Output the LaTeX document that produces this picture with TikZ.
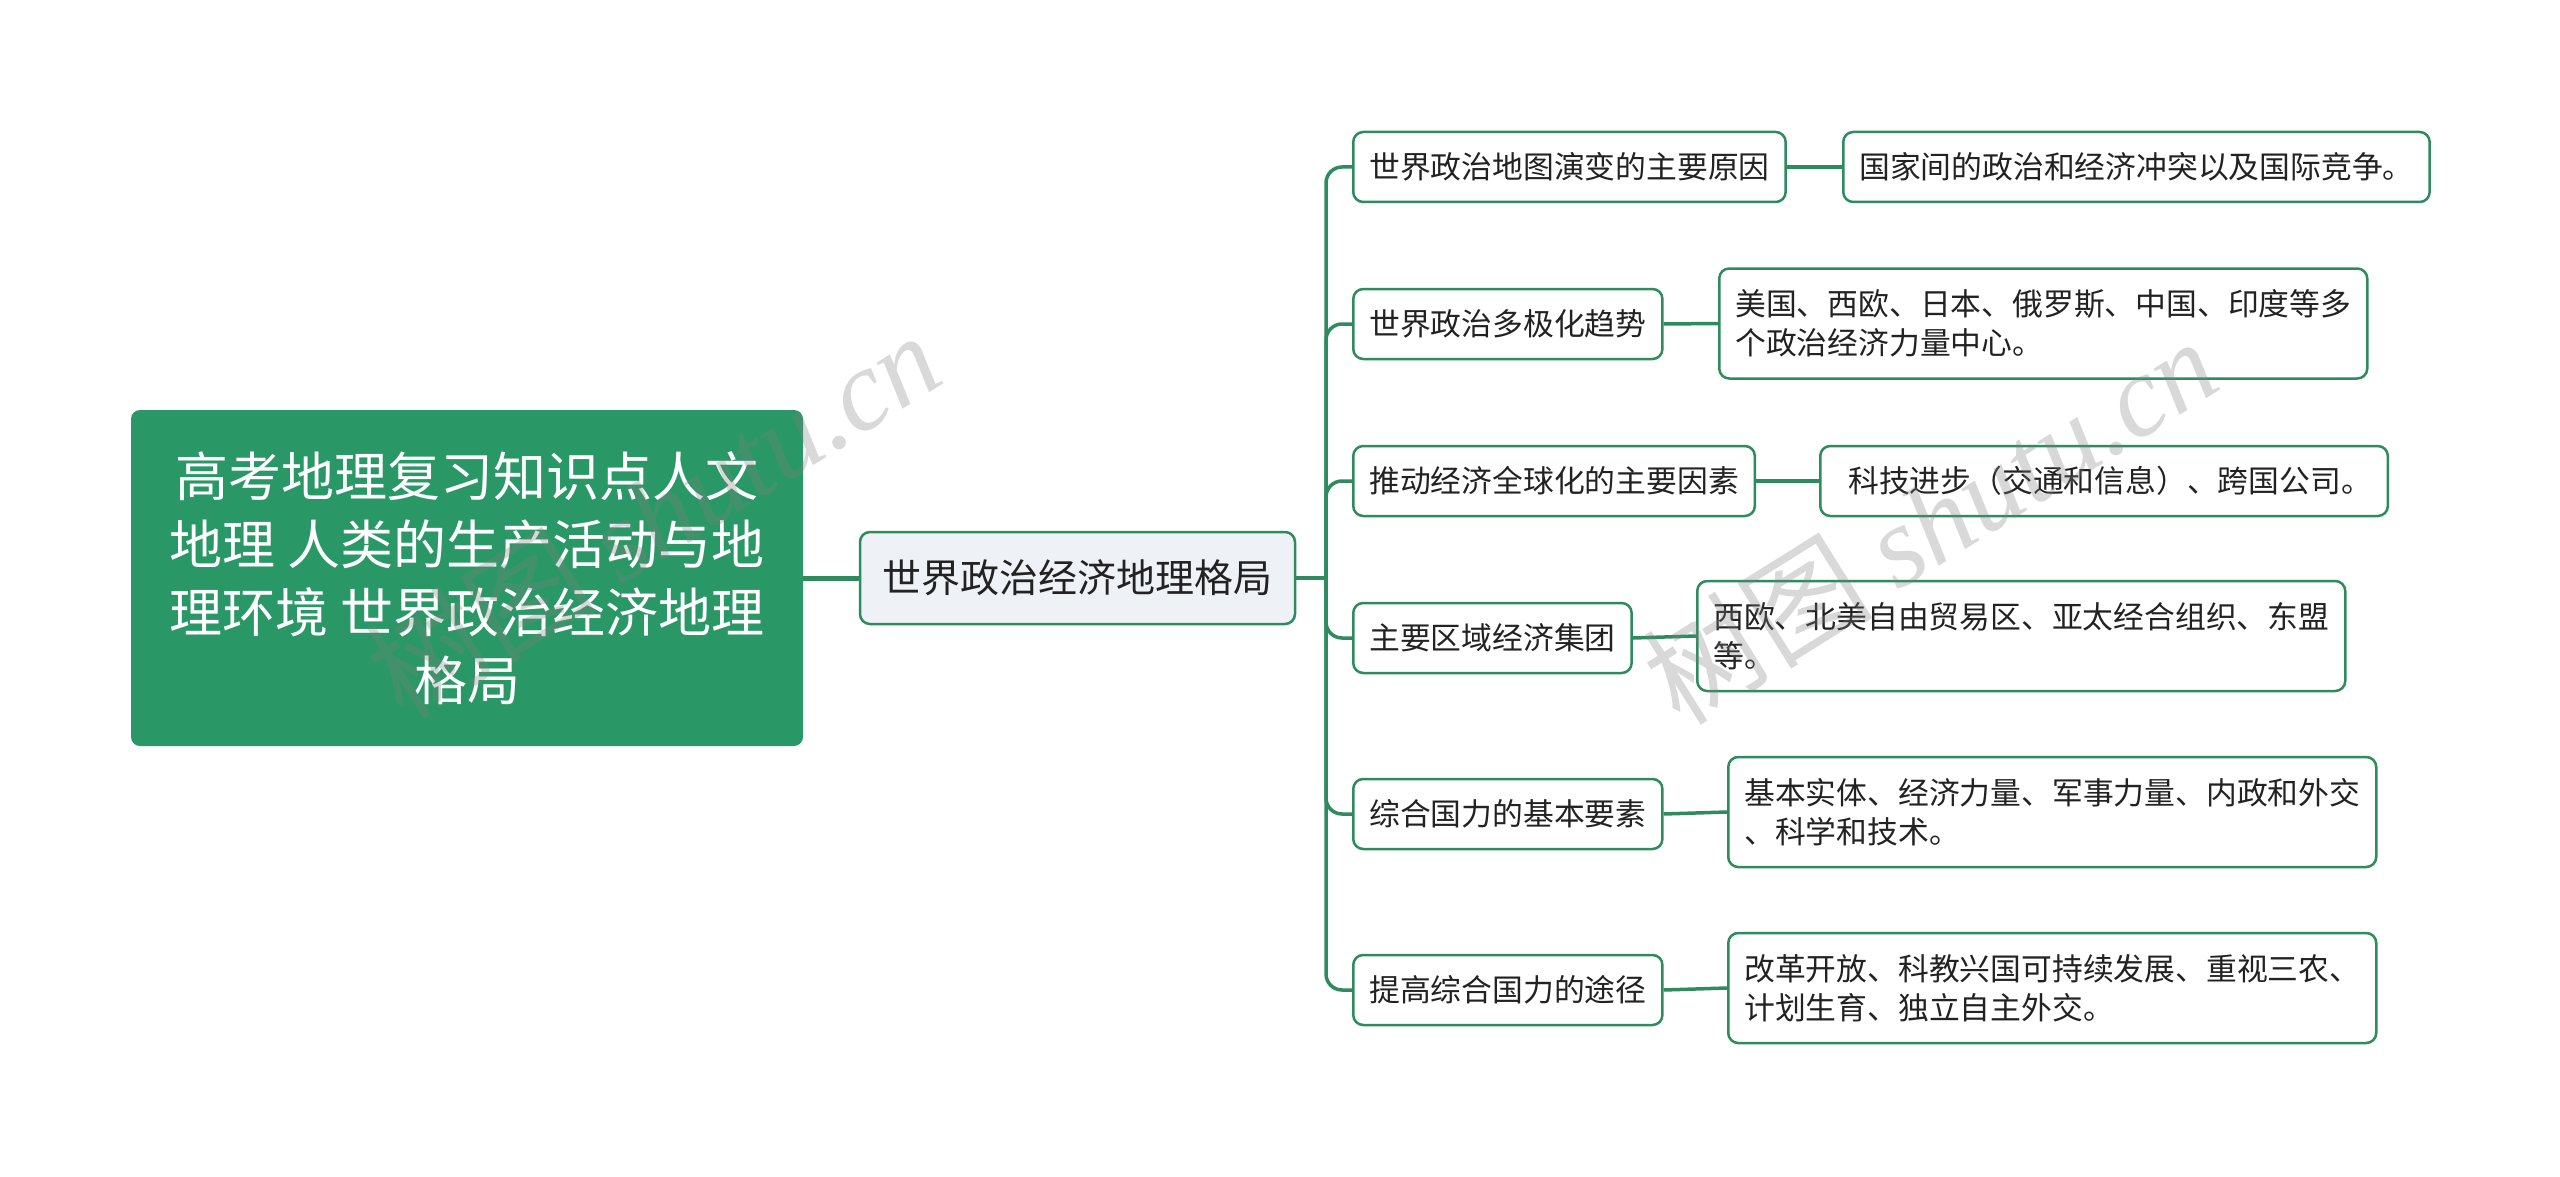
\documentclass[tikz,border=0pt]{standalone}
\usepackage{fontspec}
\setmainfont{Noto Sans CJK SC}
\newfontfamily\wmserif{Liberation Serif}
\definecolor{lineg}{RGB}{46,139,94}
\definecolor{rootg}{RGB}{42,152,102}
\definecolor{cfill}{RGB}{238,242,246}
\definecolor{txt}{RGB}{34,34,34}
\begin{document}
\begin{tikzpicture}[x=1pt,y=-1pt,
 rootbox/.style={fill=rootg, rounded corners=9pt, text=white, font=\fontsize{53}{68}\selectfont, align=center, minimum width=672pt, minimum height=336pt, inner sep=0pt},
 centerbox/.style={draw=lineg, line width=2.5pt, fill=cfill, rounded corners=10pt, text=txt, font=\fontsize{39}{48}\selectfont, minimum width=435pt, minimum height=92pt, inner sep=0pt},
 l2box/.style={draw=lineg, line width=2.5pt, fill=white, rounded corners=10pt, text=txt, font=\fontsize{30.8}{39}\selectfont, inner xsep=16pt, inner ysep=0pt, minimum height=70pt, anchor=west},
 leafbox/.style={l2box, align=left},
 leaftwo/.style={leafbox, minimum height=110pt},
 conn/.style={draw=lineg, line width=3.5pt},
 connthick/.style={draw=lineg, line width=5pt},
 wm/.style={text=gray, text opacity=0.3, font=\fontsize{115}{120}\selectfont, inner sep=0pt}
]
\useasboundingbox (0,0) rectangle (2560,1177);

% root and centre
\node[rootbox] (root) at (467,578) {高考地理复习知识点人文\\地理 人类的生产活动与地\\理环境 世界政治经济地理\\格局};
\node[centerbox] (c) at (1077.5,578) {世界政治经济地理格局};
\coordinate (j) at (1326,578);

% level two
\node[l2box] (k1) at (1352,167) {世界政治地图演变的主要原因};
\node[l2box] (k2) at (1352,324) {世界政治多极化趋势};
\node[l2box] (k3) at (1352,481) {推动经济全球化的主要因素\hspace{9pt}};
\node[l2box] (k4) at (1352,638) {主要区域经济集团\hspace{9pt}};
\node[l2box] (k5) at (1352,814) {综合国力的基本要素\hspace{8pt}};
\node[l2box] (k6) at (1352,990) {提高综合国力的途径\hspace{8pt}};

% leaves
\node[leafbox] (v1) at (1842,167) {国家间的政治和经济冲突以及国际竞争。};
\node[leaftwo] (v2) at (1718,323.5) {美国、西欧、日本、俄罗斯、中国、印度等多\\个政治经济力量中心。};
\node[leafbox] (v3) at (1819,481) {\hspace{12pt}科技进步（交通和信息）、跨国公司。};
\node[leaftwo] (v4) at (1696,636) {西欧、北美自由贸易区、亚太经合组织、东盟\\等。};
\node[leaftwo] (v5) at (1727,812) {基本实体、经济力量、军事力量、内政和外交\\、科学和技术。};
\node[leaftwo] (v6) at (1727,988) {改革开放、科教兴国可持续发展、重视三农、\\计划生育、独立自主外交。};

% connectors
\draw[connthick] (root.east) -- (c.west);
\draw[conn] (c.east) -- (j);
\foreach \k in {k1,k2,k3,k4,k5,k6} {
  \draw[conn, rounded corners=16pt] (j) |- (\k.west);
}
\draw[conn] (k1.east) -- (v1.west);
\draw[conn] (k2.east) -- (v2.west);
\draw[conn] (k3.east) -- (v3.west);
\draw[conn] (k4.east) -- (v4.west);
\draw[conn] (k5.east) -- (v5.west);
\draw[conn] (k6.east) -- (v6.west);

% watermarks
\node[wm, rotate=32] (w1) at (653,514) {树图 {\wmserif\itshape shutu.cn}};
\node[wm, rotate=32] (w2) at (1930,520) {树图 {\wmserif\itshape shutu.cn}};
\end{tikzpicture}
\end{document}
